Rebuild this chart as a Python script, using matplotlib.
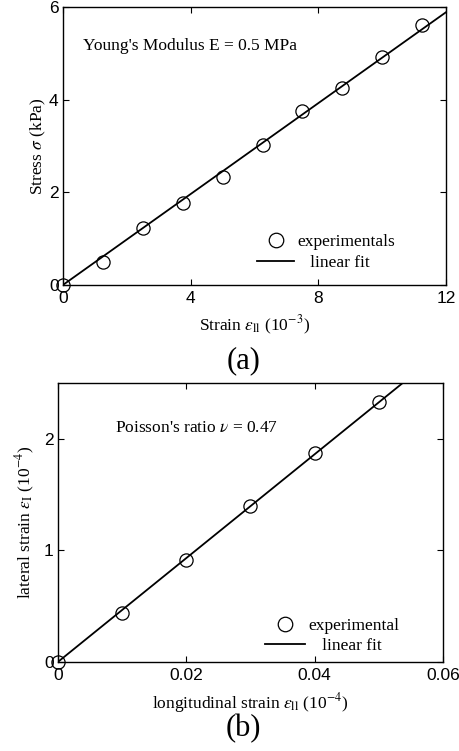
import matplotlib
matplotlib.use("Agg")
from matplotlib import pyplot as plt
import numpy as np

plt.rcParams['font.family'] = ['Liberation Serif', 'DejaVu Serif']
plt.rcParams['mathtext.fontset'] = 'stix'

# (a) stress vs strain
strain_a = np.array([0, 1.25, 2.5, 3.75, 5.0, 6.25, 7.5, 8.75, 10.0, 11.25])
stress_a = np.array([0, 0.50, 1.24, 1.76, 2.33, 3.02, 3.76, 4.25, 4.92, 5.62])

# (b) lateral vs longitudinal strain
long_b = np.array([0, 0.01, 0.02, 0.03, 0.04, 0.05])
lat_b = np.array([0, 0.44, 0.91, 1.40, 1.87, 2.33])

def fit_origin(x, y):
    return np.sum(x * y) / np.sum(x * x)

tickfont = {'family': 'Liberation Sans', 'size': 12.5}

def style(ax, xticks, yticks, xlabels, ylabels, xlim, ylim):
    ax.set_xlim(*xlim)
    ax.set_ylim(*ylim)
    ax.set_xticks(xticks)
    ax.set_yticks(yticks)
    ax.set_xticklabels(xlabels)
    ax.set_yticklabels(ylabels)
    ax.tick_params(direction='in', top=True, right=True, length=4, width=0.8)
    ax.tick_params(axis='x', pad=4)
    ax.tick_params(axis='y', pad=3)
    for lab in ax.get_xticklabels() + ax.get_yticklabels():
        lab.set_fontproperties(tickfont)
    for s in ax.spines.values():
        s.set_linewidth(1.0)

fig = plt.figure(figsize=(4.59, 7.51), dpi=100)

ax1 = fig.add_axes([0.137, 0.6205, 0.835, 0.370])
ax1.plot(strain_a, stress_a, 'o', mfc='none', mec='k', ms=9.5, mew=0.9,
         label='experimentals', clip_on=False, zorder=3)
xx = np.array([0, 12])
ax1.plot(xx, fit_origin(strain_a, stress_a) * xx, 'k-', lw=1.3, label='   linear fit')
style(ax1, [0, 4, 8, 12], [0, 2, 4, 6], ['0', '4', '8', '12'], ['0', '2', '4', '6'],
      (0, 12), (0, 6))
ax1.set_xlabel(r'Strain $\epsilon_{\rm ll}$ (10$^{-3}$)', fontsize=12.5, labelpad=6)
ax1.set_ylabel(r'Stress $\sigma$ (kPa)', fontsize=12.5, labelpad=1)
ax1.text(0.052, 0.86, "Young's Modulus E = 0.5 MPa", transform=ax1.transAxes,
         fontsize=12.5, va='center')
ax1.legend(loc='lower right', frameon=False, fontsize=12.5, handlelength=2.1,
           handletextpad=0.2, borderaxespad=0, borderpad=0, labelspacing=0.3,
           bbox_to_anchor=(0.867, 0.05), markerscale=1.1)

ax2 = fig.add_axes([0.126, 0.1185, 0.839, 0.3715])
ax2.plot(long_b, lat_b, 'o', mfc='none', mec='k', ms=9.5, mew=0.9,
         label='experimental', clip_on=False, zorder=3)
xb = np.array([0, 0.06])
ax2.plot(xb, fit_origin(long_b, lat_b) * xb, 'k-', lw=1.3, label='   linear fit')
style(ax2, [0, 0.02, 0.04, 0.06], [0, 1, 2], ['0', '0.02', '0.04', '0.06'], ['0', '1', '2'],
      (0, 0.06), (0, 2.5))
ax2.set_xlabel(r'longitudinal strain $\epsilon_{\rm ll}$ (10$^{-4}$)', fontsize=12.5, labelpad=6)
ax2.set_ylabel(r'lateral strain $\epsilon_{\rm I}$ (10$^{-4}$)', fontsize=12.5, labelpad=5)
ax2.text(0.148, 0.839, r"Poisson's ratio $\nu$ = 0.47", transform=ax2.transAxes,
         fontsize=12.5, va='center')
ax2.legend(loc='lower right', frameon=False, fontsize=12.5, handlelength=2.3,
           handletextpad=0.2, borderaxespad=0, borderpad=0, labelspacing=0.2,
           bbox_to_anchor=(0.888, 0.029), markerscale=1.1)

fig.text(0.53, 1 - 361 / 751, '(a)', fontsize=22, ha='center', va='center')
fig.text(0.53, 1 - 729 / 751, '(b)', fontsize=22, ha='center', va='center')

fig.savefig('out.png', dpi=100)
